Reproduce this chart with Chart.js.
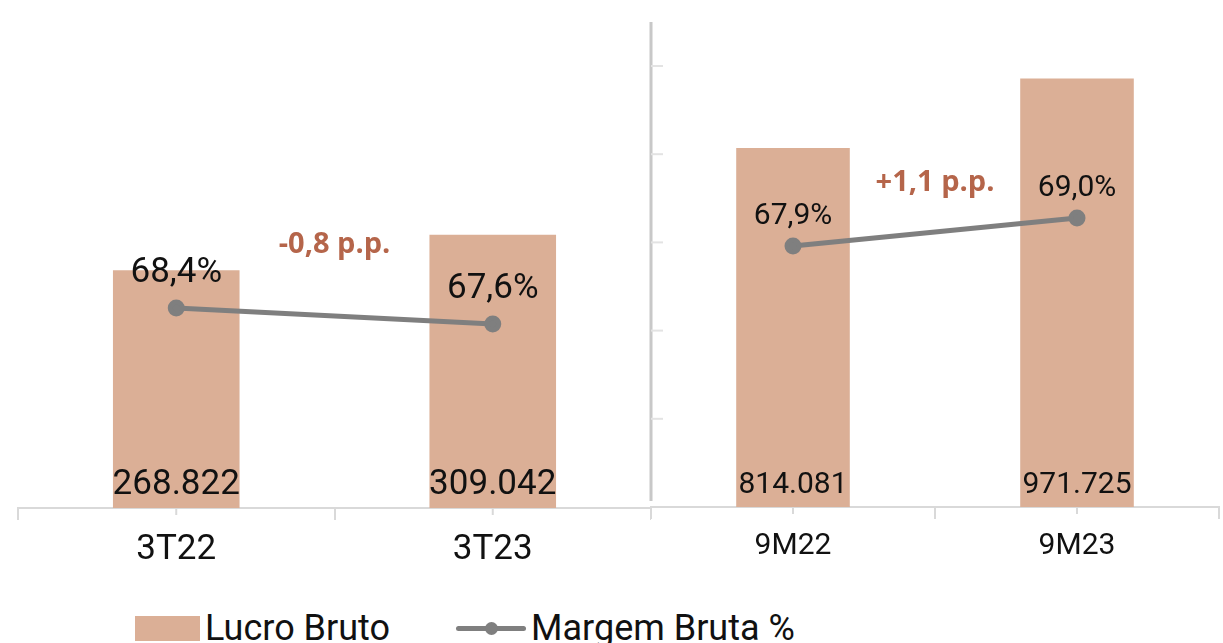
<!DOCTYPE html>
<html>
<head>
<meta charset="utf-8">
<script src="https://cdn.jsdelivr.net/npm/chart.js@4.4.0/dist/chart.umd.min.js"></script>
<style>
  body { margin: 0; background: #fff; width: 1223px; height: 643px; overflow: hidden; position: relative; font-family: Roboto, sans-serif; }
  #leftWrap { position: absolute; left: 0; top: 0; width: 651px; height: 600px; }
  #rightWrap { position: absolute; left: 649px; top: 0; width: 574px; height: 600px; }
  #legend { position: absolute; left: 135px; top: 610px; height: 36px; display: flex; align-items: center; font-size: 36px; line-height: 36px; color: #111; white-space: nowrap; }
  .box { width: 65px; height: 25px; margin-right: 5px; }
  .ln { width: 70px; height: 5px; border-radius: 3px; position: relative; margin-left: 66px; margin-right: 5px; }
  .ln span { position: absolute; left: 29px; top: -4px; width: 13px; height: 13px; border-radius: 50%; }
</style>
</head>
<body>
<div id="leftWrap"><canvas id="chartLeft"></canvas></div>
<div id="rightWrap"><canvas id="chartRight"></canvas></div>
<div id="legend"></div>
<script>
// dados (R$ mil)
const periodosTri = ['3T22', '3T23'];
const lucroTri = [268822, 309042];
const margemTri = [68.4, 67.6];

const periodosAcum = ['9M22', '9M23'];
const lucroAcum = [814081, 971725];
const margemAcum = [67.9, 69.0];

const variacoes = ['-0,8 p.p.', '+1,1 p.p.'];

const corBarra = '#dbaf96';
const corLinha = '#7f7f7f';
const corEixo = '#d9d9d9';

function fmtMil(v) {
    return Math.round(v).toString().replace(/\B(?=(\d{3})+(?!\d))/g, '.');
}
function fmtPct(v) {
    return v.toFixed(1).replace('.', ',') + '%';
}

// rotulos dos valores + variacao em p.p.
const rotulos = {
    id: 'rotulos',
    afterDatasetsDraw(chart, args, opts) {
        const ctx = chart.ctx;
        const bars = chart.getDatasetMeta(0);
        const pts = chart.getDatasetMeta(1);
        ctx.save();
        ctx.textAlign = 'center';
        ctx.textBaseline = 'alphabetic';
        ctx.fillStyle = '#111';
        ctx.font = opts.size + 'px Roboto';
        bars.data.forEach((b, i) => {
            ctx.fillText(fmtMil(chart.data.datasets[0].data[i]), b.x, b.base - 14);
        });
        pts.data.forEach((p, i) => {
            ctx.fillText(fmtPct(chart.data.datasets[1].data[i]), p.x, p.y - opts.pctGap);
        });
        ctx.font = 'bold ' + opts.deltaSize + 'px "Open Sans"';
        ctx.fillStyle = '#b5654a';
        ctx.textBaseline = 'middle';
        const mx = (pts.data[0].x + pts.data[1].x) / 2;
        const my = (pts.data[0].y + pts.data[1].y) / 2 - opts.deltaGap;
        ctx.fillText(opts.texto, mx, my);
        ctx.restore();
    }
};

// marcas curtas no centro das categorias e eixo vertical do painel direito
const marcas = {
    id: 'marcas',
    afterDraw(chart, args, opts) {
        const ctx = chart.ctx, x = chart.scales.x, a = chart.chartArea;
        ctx.save();
        ctx.strokeStyle = corEixo;
        ctx.lineWidth = 2;
        x.ticks.forEach((t, i) => {
            const px = x.getPixelForTick(i);
            ctx.beginPath();
            ctx.moveTo(px, a.bottom);
            ctx.lineTo(px, a.bottom + 7);
            ctx.stroke();
        });
        if (opts.eixoY) {
            const y = chart.scales.y;
            ctx.strokeStyle = '#c8c8c8';
            ctx.lineWidth = 3;
            ctx.beginPath();
            ctx.moveTo(a.left, y.getPixelForValue(opts.topo));
            ctx.lineTo(a.left, a.bottom - 6);
            ctx.stroke();
            ctx.strokeStyle = '#e3e3e3';
            ctx.lineWidth = 2;
            for (let v = opts.passo; v <= y.max; v += opts.passo) {
                const py = y.getPixelForValue(v);
                ctx.beginPath();
                ctx.moveTo(a.left, py);
                ctx.lineTo(a.left + 12, py);
                ctx.stroke();
            }
        }
        ctx.restore();
    }
};

function montar(id, cats, lucro, margem, cfg) {
    return new Chart(document.getElementById(id), {
        type: 'bar',
        data: {
            labels: cats,
            datasets: [
                {
                    label: 'Lucro Bruto',
                    data: lucro,
                    backgroundColor: corBarra,
                    barPercentage: 0.4,
                    categoryPercentage: 1,
                    yAxisID: 'y',
                    order: 2
                },
                {
                    type: 'line',
                    label: 'Margem Bruta %',
                    data: margem,
                    borderColor: corLinha,
                    backgroundColor: corLinha,
                    borderWidth: 5,
                    pointRadius: 6,
                    pointHoverRadius: 6,
                    yAxisID: 'yPct',
                    order: 1
                }
            ]
        },
        options: {
            responsive: true,
            maintainAspectRatio: false,
            animation: false,
            layout: { padding: cfg.padding, autoPadding: false },
            plugins: {
                legend: { display: false },
                tooltip: { enabled: false },
                rotulos: cfg.rotulos,
                marcas: cfg.marcas
            },
            scales: {
                x: {
                    grid: { display: true, drawOnChartArea: false, drawTicks: true, tickLength: 12, color: corEixo, lineWidth: 2, offset: true },
                    border: { display: true, color: corEixo, width: 2 },
                    ticks: { color: '#111', font: { family: 'Roboto', size: cfg.tickSize }, padding: 9 }
                },
                y: { display: false, min: 0, max: cfg.max },
                yPct: { display: false, position: 'right', min: cfg.pctMin, max: cfg.pctMax }
            }
        },
        plugins: [rotulos, marcas]
    });
}

const esquerda = montar('chartLeft', periodosTri, lucroTri, margemTri, {
    padding: { left: 18, right: 0, top: 66, bottom: 20 },
    max: 500000, pctMin: 58.4, pctMax: 80.5, tickSize: 35,
    rotulos: { size: 35, pctGap: 26, deltaSize: 29, deltaGap: 71, texto: variacoes[0] },
    marcas: { eixoY: false }
});

const direita = montar('chartRight', periodosAcum, lucroAcum, margemAcum, {
    padding: { left: 2, right: 4, top: 66, bottom: 27 },
    max: 1000000, pctMin: 57.6, pctMax: 75, tickSize: 30,
    rotulos: { size: 30, pctGap: 22, deltaSize: 29, deltaGap: 49, texto: variacoes[1] },
    marcas: { eixoY: true, topo: 1100000, passo: 200000 }
});

// legenda em HTML a partir dos datasets
const legenda = document.getElementById('legend');
esquerda.data.datasets.forEach(ds => {
    const marca = document.createElement('div');
    if (ds.type === 'line') {
        marca.className = 'ln';
        marca.style.background = ds.borderColor;
        const dot = document.createElement('span');
        dot.style.background = ds.borderColor;
        marca.appendChild(dot);
    } else {
        marca.className = 'box';
        marca.style.background = ds.backgroundColor;
    }
    const txt = document.createElement('span');
    txt.textContent = ds.label;
    legenda.appendChild(marca);
    legenda.appendChild(txt);
});
</script>
</body>
</html>
